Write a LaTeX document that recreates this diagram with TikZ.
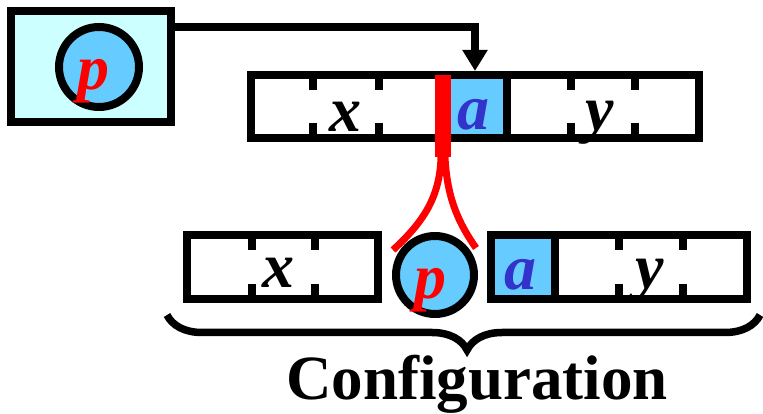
\documentclass[tikz,border=0pt]{standalone}
\usepackage{fontspec}
\setmainfont{Liberation Serif}
\usepackage{tikz}
\usetikzlibrary{arrows.meta,positioning,decorations.pathreplacing}
\definecolor{headfill}{RGB}{204,255,255}
\definecolor{cellblue}{RGB}{102,204,255}
\definecolor{symblue}{RGB}{51,51,204}

\begin{document}
\begin{tikzpicture}[x=1pt, y=1pt,
  tape/.style={draw, line width=8pt, inner sep=0pt, minimum height=64pt},
  cellbox/.style={fill=cellblue, inner sep=0pt, minimum height=64pt},
  head/.style={circle, draw, line width=8pt, fill=cellblue, inner sep=0pt},
  sym/.style={font=\fontsize{64}{64}\selectfont\bfseries\itshape, inner sep=0pt, anchor=base},
  tick/.style={line width=8pt},
  redline/.style={red, line width=7pt},
  arrow/.style={-{Triangle[width=24pt, length=21pt]}, line width=8pt},
  brace/.style={decorate, decoration={brace, mirror, amplitude=35pt, aspect=0.506}, line width=7.5pt}
]
  \useasboundingbox (0,0) rectangle (763,414);

  % Control box with head state p
  \node[draw, line width=8pt, fill=headfill, minimum width=160pt, minimum height=111pt] (ctrl) at (91,347.5) {};
  \node[head, minimum size=80pt] (pTop) at (99,347) {};
  \node[sym, text=red] (pTopSym) at (93,324) {p};

  % Tape before the step
  \node[cellbox, minimum width=64pt] (cellTop) at (475,307.5) {};
  \node[tape, minimum width=448pt, minimum height=63pt] (tapeTop) at (475,307.5) {};
  \foreach \tx in {313,379,571,635} {
    \draw[tick] (\tx,0 |- tapeTop.north) -- ++(0,-19);
    \draw[tick] (\tx,0 |- tapeTop.south) -- ++(0,19);
  }
  \draw[tick] (507,0 |- tapeTop.north) -- (507,0 |- tapeTop.south);
  \node[sym] (xTop) at (345,282) {x};
  \node[sym, text=symblue] (aTop) at (473,284) {a};
  \node[sym] (yTop) at (600,283) {y};

  % Head pointer
  \draw[arrow] ([yshift=39.5pt]ctrl.east) -| (cellTop.north |- tapeTop.north);

  % Configuration: left part, head, right part
  \node[tape, minimum width=191pt] (tapeL) at (282.5,147) {};
  \foreach \tx in {252,315} {
    \draw[tick] (\tx,0 |- tapeL.north) -- ++(0,-19);
    \draw[tick] (\tx,0 |- tapeL.south) -- ++(0,19);
  }
  \node[sym] (xBot) at (278,126) {x};

  \node[head, minimum size=78pt] (pBot) at (435,139) {};
  \node[sym, text=red] (pBotSym) at (430,115) {p};

  \node[cellbox, minimum width=64.5pt] (cellBot) at (522.75,147) {};
  \node[tape, minimum width=256pt] (tapeR) at (619,147) {};
  \foreach \tx in {619,683} {
    \draw[tick] (\tx,0 |- tapeR.north) -- ++(0,-19);
    \draw[tick] (\tx,0 |- tapeR.south) -- ++(0,19);
  }
  \draw[tick] (555,0 |- tapeR.north) -- (555,0 |- tapeR.south);
  \node[sym, text=symblue] (aBot) at (520,124) {a};
  \node[sym] (yBot) at (650,125) {y};

  % Red cut at the head position
  \coordinate (split) at (443,257);
  \coordinate (tipL) at (393,164);
  \coordinate (tipR) at (476,166);
  \draw[red, line width=16pt] (443,339) -- (split);
  \draw[redline] ([xshift=-2pt]split) .. controls (440,214) and (420,189) .. (tipL);
  \draw[redline] ([xshift=2pt]split) .. controls (447,214) and (460,189) .. (tipR);

  % Brace and label
  \draw[brace] (167,99) -- (760,99);
  \node[font=\fontsize{63}{63}\selectfont\bfseries, inner sep=0pt, anchor=base] (conf) at (477,14) {Configuration};

\end{tikzpicture}
\end{document}
